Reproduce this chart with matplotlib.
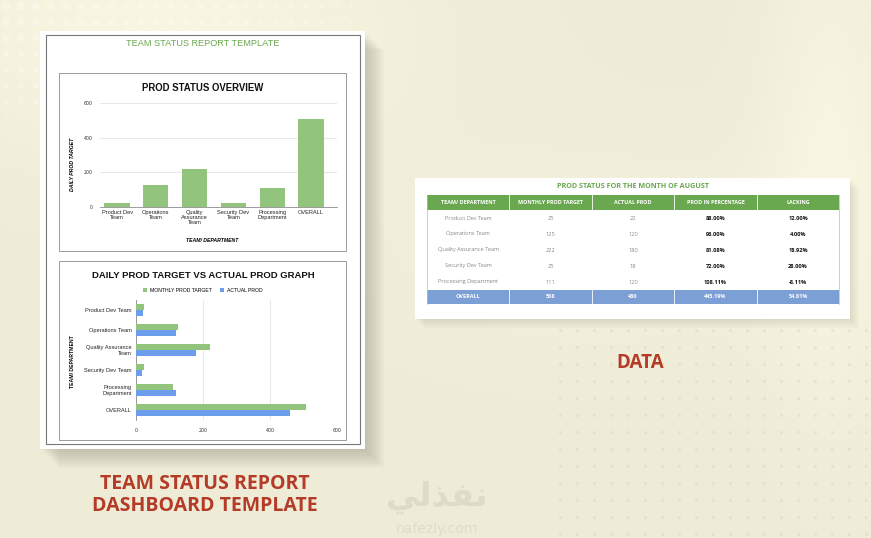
import numpy as np
import matplotlib.pyplot as plt
from matplotlib.patches import Rectangle

W, H = 871, 538

# chart data
bar_labels = ["Product Dev\nTeam", "Operations\nTeam", "Quality\nAssurance\nTeam",
              "Security Dev\nTeam", "Processing\nDepartment", "OVERALL"]
hbar_labels = ["Product Dev Team", "Operations Team", "Quality Assurance\nTeam",
               "Security Dev Team", "Processing\nDepartment", "OVERALL"]
monthly_target = [25, 125, 222, 25, 111, 508]
actual_prod = [22, 120, 180, 18, 120, 460]
axis_ticks = [0, 200, 400, 600]

# table data
headers = ["TEAM/ DEPARTMENT", "MONTHLY PROD TARGET", "ACTUAL PROD",
           "PROD IN PERCENTAGE", "LACKING"]
teams = ["Product Dev Team", "Operations Team", "Quality Assurance Team",
         "Security Dev Team", "Processing Department"]
table_target = [25, 125, 222, 25, 111]
table_actual = [22, 120, 180, 18, 120]
prod_pct = ["88.00%", "96.00%", "81.08%", "72.00%", "108.11%"]
lacking = ["12.00%", "4.00%", "18.92%", "28.00%", "-8.11%"]
overall_row = ["OVERALL", "508", "460", "445.19%", "54.81%"]

GREEN_BAR = "#93c47d"
BLUE_BAR = "#6d9eeb"
GREEN_HEAD = "#6aa84f"
BLUE_ROW = "#7c9fd6"
RED_TEXT = "#b33b27"
CHART_FONT = ["Liberation Sans", "DejaVu Sans"]


def px_rect(l, t, r, b):
    # pixel box (top-left origin) -> figure fraction rect
    return [l / W, 1 - b / H, (r - l) / W, (b - t) / H]


fig = plt.figure(figsize=(W / 100, H / 100), dpi=100)
bg = fig.add_axes([0, 0, 1, 1])
bg.set_xlim(0, W)
bg.set_ylim(H, 0)
bg.axis("off")

# cream background with soft light patches
yy, xx = np.mgrid[0:H, 0:W]
base = np.array([238, 236, 214]) / 255.0
glow = (0.04 * np.exp(-((xx - 160) ** 2 / 260 ** 2 + (yy - 30) ** 2 / 140 ** 2))
        + 0.035 * np.exp(-((xx - 830) ** 2 / 70 ** 2 + (yy - 160) ** 2 / 260 ** 2))
        + 0.02 * np.exp(-((xx - 600) ** 2 / 250 ** 2 + (yy - 250) ** 2 / 120 ** 2)))
img = np.clip(base[None, None, :] + glow[:, :, None], 0, 1)
bg.imshow(img, extent=(0, W, H, 0), aspect="auto", zorder=0)

# halftone dots
dx, dy = np.meshgrid(np.arange(6, 420, 15), np.arange(6, 120, 16))
fade = np.clip(1 - dx / 420, 0, 1) * np.clip(1 - dy / 130, 0, 1)
bg.scatter(dx.ravel(), dy.ravel(), s=40 * fade.ravel(), color="white",
           alpha=0.3, linewidths=0, zorder=1)
gx, gy = np.meshgrid(np.arange(560, 871, 17), np.arange(330, 538, 17))
bg.scatter(gx.ravel(), gy.ravel(), s=5, color="#d8d5bd", alpha=0.45,
           linewidths=0, zorder=1)


def card(l, t, r, b, shadow=14):
    for i in range(1, shadow, 2):
        bg.add_patch(Rectangle((l + i, t + i), r - l, b - t, color="#6b6a5a",
                               alpha=0.035, lw=0, zorder=2))
    bg.add_patch(Rectangle((l, t), r - l, b - t, color="white", lw=0, zorder=3))


# left report sheet
card(40, 31, 365, 449, shadow=20)
bg.add_patch(Rectangle((46, 35), 314, 409, fill=False, ec="#777777", lw=0.8, zorder=4))
bg.text(203, 44, "TEAM STATUS REPORT TEMPLATE", ha="center", va="center",
        color=GREEN_HEAD, fontsize=6.6,
        family=["Liberation Sans Narrow", "Liberation Sans"], zorder=5)
bg.add_patch(Rectangle((59, 73), 287, 178, fill=False, ec="#9a9a9a", lw=0.7, zorder=4))
bg.add_patch(Rectangle((59, 261), 287, 179, fill=False, ec="#9a9a9a", lw=0.7, zorder=4))

# --- chart 1: vertical bars
bg.text(203, 88, "PROD STATUS OVERVIEW", ha="center", va="center", fontsize=6.9,
        fontweight="bold", family=CHART_FONT, color="#111111", zorder=5)
ax1 = fig.add_axes(px_rect(100, 103, 337, 207))
ax1.set_facecolor("none")
x = np.arange(len(bar_labels))
ax1.bar(x, monthly_target, width=0.65, color=GREEN_BAR, zorder=3)
ax1.set_xlim(-0.44, 5.67)
ax1.set_ylim(0, 600)
ax1.set_yticks(axis_ticks)
ax1.set_xticks(x)
ax1.set_xticklabels(bar_labels, fontsize=4.1, family=CHART_FONT, color="#222222",
                    linespacing=1.05)
ax1.tick_params(axis="y", labelsize=3.4, length=0, pad=5, labelcolor="#333333")
ax1.tick_params(axis="x", length=0, pad=2)
ax1.grid(axis="y", color="#e4e4e4", lw=0.6, zorder=0)
for s in ["top", "right", "left"]:
    ax1.spines[s].set_visible(False)
ax1.spines["bottom"].set_color("#8c8c8c")
ax1.spines["bottom"].set_linewidth(0.6)
bg.text(72, 164, "DAILY PROD TARGET", rotation=90, ha="center", va="center",
        fontsize=3.7, fontweight="bold", style="italic", family=CHART_FONT, zorder=5)
bg.text(212, 241, "TEAM/ DEPARTMENT", ha="center", va="center", fontsize=3.7,
        fontweight="bold", style="italic", family=CHART_FONT, zorder=5)

# --- chart 2: horizontal bars
bg.text(203, 275, "DAILY PROD TARGET VS ACTUAL PROD GRAPH", ha="center", va="center",
        fontsize=6.8, fontweight="bold", family=CHART_FONT, color="#111111", zorder=5)
ax2 = fig.add_axes(px_rect(136, 300, 337, 420))
ax2.set_facecolor("none")
y = np.arange(len(hbar_labels))
h1 = ax2.barh(y - 0.15, monthly_target, height=0.3, color=GREEN_BAR, zorder=3,
              label="MONTHLY PROD TARGET")
h2 = ax2.barh(y + 0.15, actual_prod, height=0.3, color=BLUE_BAR, zorder=3,
              label="ACTUAL PROD")
ax2.set_xlim(0, 600)
ax2.set_ylim(5.5, -0.5)
ax2.set_xticks(axis_ticks)
ax2.set_yticks(y)
ax2.set_yticklabels(hbar_labels, fontsize=4.1, family=CHART_FONT, color="#222222",
                    linespacing=1.1)
ax2.tick_params(axis="y", length=0, pad=3)
ax2.tick_params(axis="x", labelsize=3.4, length=0, pad=6, labelcolor="#333333")
ax2.grid(axis="x", color="#e4e4e4", lw=0.6, zorder=0)
for s in ["top", "right", "bottom"]:
    ax2.spines[s].set_visible(False)
ax2.spines["left"].set_color("#8c8c8c")
ax2.spines["left"].set_linewidth(0.6)
ax2.legend(handles=[h1, h2], loc="center", bbox_to_anchor=(203 / W, 1 - 290 / H),
           bbox_transform=fig.transFigure, ncol=2, frameon=False,
           prop={"size": 3.7, "family": CHART_FONT}, handlelength=0.7,
           handleheight=0.7, handletextpad=0.6, columnspacing=1.6)
bg.text(72, 362, "TEAM/ DEPARTMENT", rotation=90, ha="center", va="center",
        fontsize=3.7, fontweight="bold", family=CHART_FONT, zorder=5)

# --- data table card
card(415, 178, 850, 319, shadow=10)
TFONT = ["Open Sans", "DejaVu Sans"]
bg.text(633, 187, "PROD STATUS FOR THE MONTH OF AUGUST", ha="center", va="center",
        fontsize=5.2, fontweight="bold", color=GREEN_HEAD, family=TFONT, zorder=6)
cols = [427, 509, 592, 674, 757, 839]
head_t, head_b = 195, 210
row_h = 16
over_t = head_b + row_h * len(teams)
over_b = over_t + 14
bg.add_patch(Rectangle((cols[0], head_t), cols[-1] - cols[0], head_b - head_t,
                       color=GREEN_HEAD, lw=0, zorder=5))
bg.add_patch(Rectangle((cols[0], over_t), cols[-1] - cols[0], over_b - over_t,
                       color=BLUE_ROW, lw=0, zorder=5))
bg.plot([cols[0], cols[0]], [head_t, over_b], color="#bbbbbb", lw=0.5, zorder=6)
bg.plot([cols[-1], cols[-1]], [head_t, over_b], color="#bbbbbb", lw=0.5, zorder=6)
for c in cols[1:-1]:
    bg.plot([c, c], [head_t, head_b], color="white", lw=0.6, zorder=6)
    bg.plot([c, c], [over_t, over_b], color="white", lw=0.6, zorder=6)
centers = [(a + b) / 2 for a, b in zip(cols[:-1], cols[1:])]
for cx, name in zip(centers, headers):
    bg.text(cx, (head_t + head_b) / 2, name, ha="center", va="center", fontsize=3.9,
            fontweight="bold", color="white", family=TFONT, zorder=7)
for i, team in enumerate(teams):
    cy = head_b + row_h * (i + 0.5)
    vals = [team, str(table_target[i]), str(table_actual[i]), prod_pct[i], lacking[i]]
    for j, (cx, v) in enumerate(zip(centers, vals)):
        bold = j >= 3
        bg.text(cx, cy, v, ha="center", va="center", fontsize=4.1,
                fontweight="bold" if bold else "light",
                color="#111111" if bold else "#4a4a4a", family=TFONT, zorder=7)
for cx, v in zip(centers, overall_row):
    bg.text(cx, (over_t + over_b) / 2, v, ha="center", va="center", fontsize=4.0,
            fontweight="bold", color="white", family=TFONT, zorder=7)

# --- captions
CAP_FONT = ["Open Sans", "DejaVu Sans"]
bg.text(640, 363, "DATA", ha="center", va="center", fontsize=13.5, fontweight="bold",
        color=RED_TEXT, family=CAP_FONT, zorder=5)
bg.text(205, 484, "TEAM STATUS REPORT", ha="center", va="center", fontsize=14,
        fontweight="bold", color=RED_TEXT, family=CAP_FONT, zorder=5)
bg.text(205, 506, "DASHBOARD TEMPLATE", ha="center", va="center", fontsize=14,
        fontweight="bold", color=RED_TEXT, family=CAP_FONT, zorder=5)

# faint watermark (Arabic written in presentation forms, visual order)
bg.text(437, 497, "\uFEF2\uFEDF\uFEAC\uFED4\uFEE7", ha="center", va="center",
        fontsize=24, fontweight="bold", color="#dddbc9", family=["DejaVu Sans"],
        zorder=5)
bg.text(437, 529, "nafezly.com", ha="center", va="center", fontsize=10,
        color="#dfddcc", family=["DejaVu Sans"], zorder=5)

fig.savefig("out.png", dpi=100)
